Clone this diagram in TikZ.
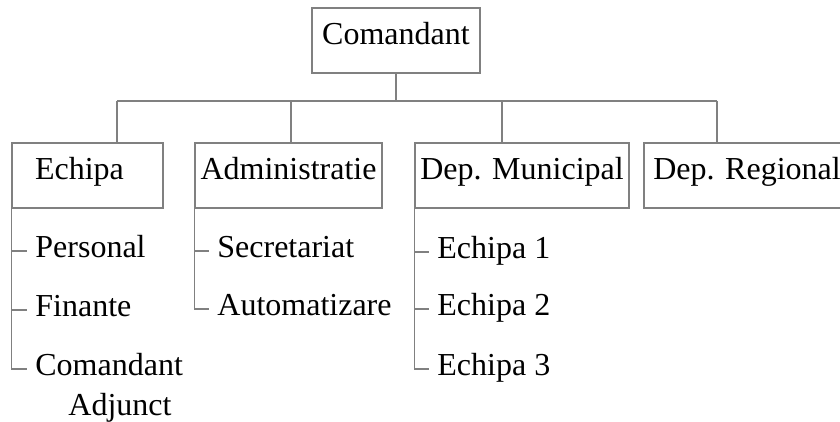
\documentclass[tikz,border=0pt]{standalone}
\usepackage{fontspec}
\setmainfont{Liberation Serif}
\begin{document}
\begin{tikzpicture}[x=0.5pt,y=-0.5pt,
        unit/.style={draw=gray,line width=0.6pt,minimum height=32.5pt,inner sep=0pt,
            text height=.66em,text depth=.22em,font=\fontsize{16}{18}\selectfont},
        item/.style={anchor=west,inner xsep=4pt,inner ysep=0pt,
            text height=.66em,text depth=0pt,font=\fontsize{16}{18}\selectfont},
        link/.style={draw=gray,line width=0.6pt}]
        \clip (0,0) rectangle (840,422);
        \node[unit,minimum width=84pt] (top) at (396,40.5) {Comandant};
        \node[unit,inner xsep=11.5pt,text width=52.5pt,align=left] (echipa) at (87.5,175.5) {Echipa};
        \node[unit,minimum width=93.5pt] (admin) at (288.5,175.5) {Administratie};
        \node[unit,minimum width=107pt] (munic) at (522,175.5) {Dep. Municipal};
        \node[unit,minimum width=103pt] (regional) at (747,175.5) {Dep. Regional};
        % bus between the levels
        \coordinate (bus) at (top.south |- 0,101);
        \coordinate (b1) at (117,101);
        \coordinate (b2) at (291,101);
        \coordinate (b3) at (502,101);
        \coordinate (b4) at (717,101);
        \draw[link] (top.south) -- (bus);
        \draw[link] (b1) -- (b4);
        \draw[link] (b1) -- (b1 |- echipa.north);
        \draw[link] (b2) -- (b2 |- admin.north);
        \draw[link] (b3) -- (b3 |- munic.north);
        \draw[link] (b4) -- (b4 |- regional.north);
        % Echipa
        \node[item] (personal) at (27,251) {Personal};
        \node[item] (finante) at (27,310) {Finante};
        \node[item] (cmdadj) at (27,369) {Comandant};
        \node[item,anchor=base west] (adjunct) at (60,415) {Adjunct};
        \draw[link] (echipa.south west) |- (personal.west);
        \draw[link] (echipa.south west) |- (finante.west);
        \draw[link] (echipa.south west) |- (cmdadj.west);
        % Administratie
        \node[item] (secretariat) at (209,251) {Secretariat};
        \node[item] (automatizare) at (209,309) {Automatizare};
        \draw[link] (admin.south west) |- (secretariat.west);
        \draw[link] (admin.south west) |- (automatizare.west);
        % Dep. Municipal
        \node[item] (echipa1) at (429,252) {Echipa 1};
        \node[item] (echipa2) at (429,309) {Echipa 2};
        \node[item] (echipa3) at (429,369) {Echipa 3};
        \draw[link] (munic.south west) |- (echipa1.west);
        \draw[link] (munic.south west) |- (echipa2.west);
        \draw[link] (munic.south west) |- (echipa3.west);
\end{tikzpicture}
\end{document}
